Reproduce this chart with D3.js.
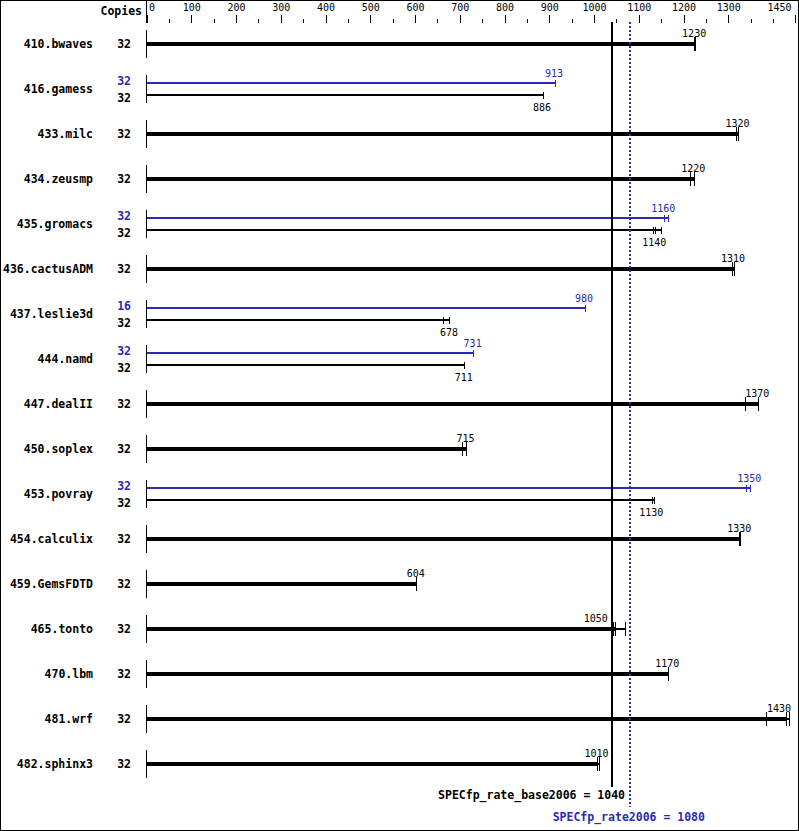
<!DOCTYPE html>
<html>
<head>
<meta charset="utf-8">
<script src="https://cdn.jsdelivr.net/npm/d3@7"></script>
<style>
  html, body { margin: 0; padding: 0; background: #fff; }
  svg { display: block; }
</style>
</head>
<body>
<div id="chart"></div>
<script>
// ---------- data ----------
const benchmarks = ["410.bwaves","416.gamess","433.milc","434.zeusmp","435.gromacs","436.cactusADM",
  "437.leslie3d","444.namd","447.dealII","450.soplex","453.povray","454.calculix","459.GemsFDTD",
  "465.tonto","470.lbm","481.wrf","482.sphinx3"];
const baseCopies = [32,32,32,32,32,32,32,32,32,32,32,32,32,32,32,32,32];
const peakCopies = [null,32,null,null,32,null,16,32,null,null,32,null,null,null,null,null,null];
const baseRuns = [
  [1225,1226,1227],[886,886,886],[1318,1323,1323],[1215,1224,1225],[1133,1137,1150],
  [1310,1313,1314],[664,678,678],[711,711,711],[1339,1367,1367],[707,715,715],
  [1130,1130,1136],[1326,1327,1328],[603,604,604],[1044,1048,1071],[1166,1166,1166],
  [1386,1431,1436],[1008,1008,1012]
];
const peakRuns = [
  null,[913,913,913],null,null,[1157,1157,1167],null,[980,980,980],[730,731,731],
  null,null,[1341,1349,1349],null,null,null,null,null,null
];
const majorTicks = [0,100,200,300,400,500,600,700,800,900,1000,1100,1200,1300,1450];
const minorTicks = [50,150,250,350,450,550,650,750,850,950,1050,1150,1250,1350,1400];
const baseMean = 1040;
const peakMean = 1080;
const baseMetricLabel = "SPECfp_rate_base2006";
const peakMetricLabel = "SPECfp_rate2006";

// ---------- setup ----------
const W = 799, H = 831;
const BLUE = "#2a2ab4";
const MONO = "'DejaVu Sans Mono', 'Liberation Mono', monospace";

const svg = d3.select("#chart").append("svg")
  .attr("width", W).attr("height", H)
  .attr("viewBox", `0 0 ${W} ${H}`);

svg.append("rect").attr("x",0).attr("y",0).attr("width",W).attr("height",H).attr("fill","#fff");
svg.append("rect").attr("x",0.5).attr("y",0.5).attr("width",W-1).attr("height",H-1)
  .attr("fill","none").attr("stroke","#000").attr("stroke-width",1).attr("shape-rendering","crispEdges");

const x = d3.scaleLinear().domain([0,1450]).range([146.5, 795.4]);
const y = d3.scaleBand().domain(benchmarks).range([21.5, 21.5 + 45*benchmarks.length]).paddingInner(0);
const cy = b => y(b) + y.bandwidth()/2;
const fmt = d3.format(".3r");

// ---------- axis ----------
const axisY = 22.5;
const gMinor = svg.append("g").attr("transform",`translate(0,${axisY})`)
  .call(d3.axisTop(x).tickValues(minorTicks).tickSize(4).tickFormat(""));
const gMajor = svg.append("g").attr("transform",`translate(0,${axisY})`)
  .call(d3.axisTop(x).tickValues(majorTicks).tickSize(8).tickPadding(4).tickFormat(d3.format("d")));
[gMinor, gMajor].forEach(g => {
  g.select(".domain").remove();
  g.selectAll("line").attr("stroke","#000").attr("shape-rendering","crispEdges");
});
gMajor.selectAll("text")
  .attr("font-family", MONO).attr("font-size", "10px").attr("fill","#000")
  .each(function(d){
    const t = d3.select(this);
    if (d === 0) t.attr("text-anchor","start").attr("x", 2);
    if (d === 1450) t.attr("text-anchor","end").attr("x", 791 - x(1450));
  });

// top stub of the zero line
svg.append("line").attr("x1",x(0)).attr("x2",x(0)).attr("y1",0).attr("y2",axisY)
  .attr("stroke","#000").attr("shape-rendering","crispEdges");

svg.append("text").attr("x",142).attr("y",14.5).attr("text-anchor","end")
  .attr("font-family",MONO).attr("font-weight","bold").attr("font-size","11.5px").text("Copies");

// ---------- rows ----------
const lineX = x(baseMean);
const rows = svg.append("g");

function drawSeries(g, runs, yy, thick, color, labelAbove, labelDy) {
  const sorted = runs.slice().sort(d3.ascending);
  const med = d3.median(sorted);
  const mn = d3.min(sorted), mx = d3.max(sorted);
  // whisker
  g.append("line").attr("x1",x(mn)).attr("x2",x(mx)).attr("y1",yy).attr("y2",yy)
    .attr("stroke",color).attr("stroke-width",2).attr("shape-rendering","crispEdges");
  // bar
  g.append("line").attr("x1",x(0)).attr("x2",x(med)).attr("y1",yy).attr("y2",yy)
    .attr("stroke",color).attr("stroke-width",thick ? 4 : 2).attr("shape-rendering","crispEdges");
  // run ticks
  const h = thick ? 7 : 3.5;
  g.selectAll(null).data(sorted).enter().append("line")
    .attr("x1",d=>x(d)).attr("x2",d=>x(d)).attr("y1",yy-h).attr("y2",yy+h)
    .attr("stroke",color).attr("stroke-width",1).attr("shape-rendering","crispEdges");
  // label
  const w = 24.1;
  let cx = x(med) - 1;
  if (cx - w/2 < lineX + 2 && cx + w/2 > lineX - 2) cx = lineX - 4 - w/2;
  if (cx + w/2 > 791) cx = 791 - w/2;
  g.append("text").attr("x",cx).attr("y",yy + labelDy).attr("text-anchor","middle")
    .attr("font-family",MONO).attr("font-size","10px").attr("fill",color).text(fmt(med));
}

benchmarks.forEach((b,i) => {
  const c = cy(b);
  const g = rows.append("g");
  g.append("text").attr("x",93).attr("y",c+4).attr("text-anchor","end")
    .attr("font-family",MONO).attr("font-weight","bold").attr("font-size","11.5px").text(b);
  g.append("line").attr("x1",x(0)).attr("x2",x(0)).attr("y1",c-14).attr("y2",c+14)
    .attr("stroke","#000").attr("shape-rendering","crispEdges");
  if (peakRuns[i]) {
    const yb = c - 6, yk = c + 6;
    g.append("text").attr("x",131).attr("y",yb+1.5).attr("text-anchor","end").attr("fill",BLUE)
      .attr("font-family",MONO).attr("font-weight","bold").attr("font-size","11.5px").text(peakCopies[i]);
    g.append("text").attr("x",131).attr("y",yk+7).attr("text-anchor","end").attr("fill","#000")
      .attr("font-family",MONO).attr("font-weight","bold").attr("font-size","11.5px").text(baseCopies[i]);
    drawSeries(g, peakRuns[i], yb, false, BLUE, true, -6);
    drawSeries(g, baseRuns[i], yk, false, "#000", false, 15.5);
  } else {
    g.append("text").attr("x",131).attr("y",c+4).attr("text-anchor","end").attr("fill","#000")
      .attr("font-family",MONO).attr("font-weight","bold").attr("font-size","11.5px").text(baseCopies[i]);
    drawSeries(g, baseRuns[i], c, true, "#000", true, -7.5);
  }
});

// ---------- reference lines ----------
svg.append("line").attr("x1",lineX).attr("x2",lineX).attr("y1",22).attr("y2",787)
  .attr("stroke","#000").attr("stroke-width",2).attr("shape-rendering","crispEdges");
const px = x(peakMean);
svg.append("line").attr("x1",px).attr("x2",px).attr("y1",22).attr("y2",807)
  .attr("stroke",BLUE).attr("stroke-width",2).attr("stroke-dasharray","2,2")
  .attr("shape-rendering","crispEdges");

svg.append("text").attr("x",625).attr("y",798.5).attr("text-anchor","end")
  .attr("font-family",MONO).attr("font-weight","bold").attr("font-size","11.5px").attr("fill","#000")
  .text(`${baseMetricLabel} = ${baseMean}`);
svg.append("text").attr("x",px - 1).attr("y",821).attr("text-anchor","middle")
  .attr("font-family",MONO).attr("font-weight","bold").attr("font-size","11.5px").attr("fill",BLUE)
  .text(`${peakMetricLabel} = ${peakMean}`);
</script>
</body>
</html>
